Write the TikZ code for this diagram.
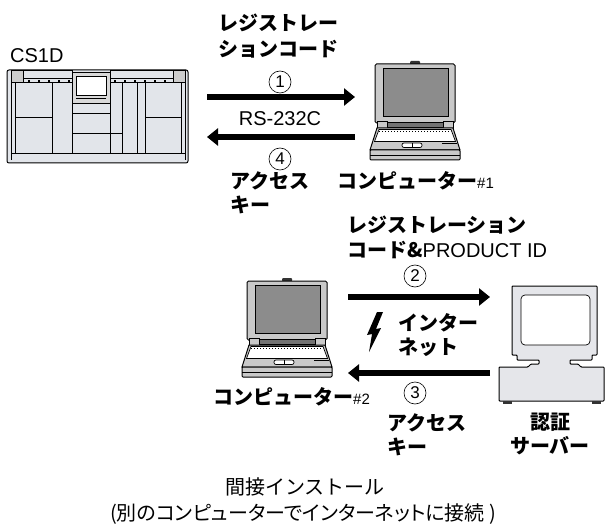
\documentclass[tikz,border=0pt]{standalone}
\usepackage{fontspec}
\setmainfont{Liberation Sans}
\newfontfamily\jp{Noto Sans CJK JP}
\newfontfamily\jpp[RawFeature=+palt]{Noto Sans CJK JP}
\usetikzlibrary{arrows.meta}

\definecolor{panel}{HTML}{E2E5EA}
\definecolor{lidgray}{HTML}{C9C9C9}
\definecolor{scrgray}{HTML}{8C8C8C}
\definecolor{srvgray}{HTML}{E5E6EA}

\tikzset{
  jlabel/.style={anchor=west, inner sep=0pt, text height=17.6pt, text depth=2.4pt,
    font=\jp\bfseries\fontsize{20}{20}\selectfont},
  llabel/.style={anchor=west, inner sep=0pt, text height=17.6pt, text depth=2.4pt,
    font=\fontsize{20}{20}\selectfont},
  plain/.style={inner sep=0pt, font=\jp\fontsize{20}{20}\selectfont},
  num/.style={circle, draw, line width=0.6pt, minimum size=22pt, inner sep=0pt,
    font=\fontsize{17}{17}\selectfont},
  flow/.style={line width=6pt, -{Triangle[length=11pt,width=17pt]}},
  outline/.style={draw=black, line width=1pt},
  thin/.style={draw=black, line width=0.7pt},
  laptop/.pic={
    % lid with knob and screen
    \fill[black!80, rounded corners=1pt] (40,0) rectangle (50,3.5);
    \draw[outline, fill=lidgray, rounded corners=1.5pt] (5,3) rectangle (85,62);
    \draw[thin, fill=scrgray] (13,7) rectangle (78,55);
    % hinge
    \draw[thin, fill=lidgray] (7,60) rectangle (17,67);
    \draw[thin, fill=lidgray] (73,60) rectangle (83,67);
    \draw[thin, fill=black!55] (17,61) rectangle (73,66);
    % base with keyboard and touchpad
    \draw[outline, fill=lidgray] (7,67) -- (83,67) -- (90,89) -- (0,89) -- cycle;
    \draw[thin, fill=white] (9,68.5) -- (81,68.5) -- (85.5,80.5) -- (4.5,80.5) -- cycle;
    \draw[line width=0.6pt, dash pattern=on 1pt off 2pt] (9,70.5) -- (81,70.5);
    \draw[thin] (72,82) -- (87,82);
    \draw[thin, fill=white, rounded corners=2pt] (32,82) rectangle (52,86.5);
    \draw[thin] (42,82) -- (42,86.5);
    % front band
    \draw[outline, fill=lidgray, rounded corners=1pt] (0,89) rectangle (90,99);
    \draw[thin] (0,94) -- (90,94);
  }
}

\begin{document}
\begin{tikzpicture}[x=1pt, y=-1pt]
\path[use as bounding box] (0,0) rectangle (607,529);

% ---------------- CS1D console ----------------
\node[llabel] (cs1d) at (10,55) {CS1D};
\draw[outline, fill=panel, rounded corners=2pt] (7,70) rectangle (188,163);
% end caps
\draw[thin] (15,70) -- (15,153);
\draw[thin] (11,70) -- (11,160);
\draw[thin] (181,70) -- (181,153);
\draw[thin] (185,70) -- (185,160);
\draw[thin, fill=black!20] (11,70) rectangle (23,82);
\draw[thin, fill=black!20] (173,70) rectangle (185,82);
% top rails
\draw[thin] (23,70) rectangle (72,82);
\draw[thin] (110,70) rectangle (173,82);
\draw[thin] (23,78) -- (72,78);
\draw[thin] (110,78) -- (173,78);
\draw[line width=1.4pt, dash pattern=on 2pt off 8pt] (28,81) -- (70,81);
\draw[line width=1.4pt, dash pattern=on 2pt off 8pt] (114,81) -- (170,81);
% bottom rail
\draw[thin] (11,153) -- (185,153);
% display
\draw[thin, fill=black!15] (72,72) rectangle (110,103);
\draw[thin, fill=white] (76,76) rectangle (106,95);
\draw[thin] (76,98) -- (106,98);
% column lines
\foreach \cx in {52,72,110,122,137,145} {
  \draw[thin] (\cx,82) -- (\cx,153);
}
\draw[thin] (15,117) -- (52,117);
\draw[thin] (145,117) -- (181,117);
\draw[thin] (72,113) -- (110,113);
\draw[thin] (72,133) -- (122,133);

% ---------------- laptops ----------------
\pic (pc1) at (370,61) {laptop};
\pic (pc2) at (242,278) {laptop};

% ---------------- server ----------------
\draw[outline, fill=srvgray, rounded corners=0.8pt]
  (512,286) -- (597,286) -- (597,355) -- (592,355) -- (592,360) -- (570,360)
  -- (570,364) -- (578,364) -- (581,367) -- (604,367) -- (604,401) -- (499,401)
  -- (499,367) -- (528,367) -- (531,364) -- (539,364) -- (539,360) -- (517,360)
  -- (517,355) -- (512,355) -- cycle;
\draw[thin, fill=white, rounded corners=4pt] (521,295) rectangle (590,345);
\fill[black!80] (503,401) rectangle (512,403.5);
\fill[black!80] (592,401) rectangle (601,403.5);

% ---------------- first exchange (RS-232C) ----------------
\node[jlabel] (reg1a) at (218,23) {レジストレー};
\node[jlabel] (reg1b) at (218,49) {ションコード};
\node[num] (n1) at (280,82) {1};
\coordinate (a1s) at (207,97);
\coordinate (a1e) at (355,97);
\draw[flow] (a1s) -- (a1e);
\node[llabel, anchor=center] (rs) at (280,118) {RS-232C};
\coordinate (a4s) at (355,137);
\coordinate (a4e) at (207,137);
\draw[flow] (a4s) -- (a4e);
\node[num] (n4) at (280,159) {4};
\node[jlabel] (key1a) at (230,181) {アクセス};
\node[jlabel] (key1b) at (230,205) {キー};
\node[jlabel] (pc1lbl) at (337,181) {コンピューター{\rmfamily\mdseries\fontsize{15}{15}\selectfont\#1}};

% ---------------- second exchange (internet) ----------------
\node[jlabel] (reg2a) at (347,225) {レジストレーション};
\node[jlabel] (reg2b) at (347,250) {コード\&{\rmfamily\mdseries PRODUCT ID}};
\node[num] (n2) at (415,276) {2};
\coordinate (a2s) at (348,297);
\coordinate (a2e) at (490,297);
\draw[flow] (a2s) -- (a2e);
\fill[black] (377,312) -- (383,312) -- (376,329) -- (381,328) -- (369,352)
  -- (372,334) -- (367,335) -- cycle;
\node[jlabel] (net1) at (398,323) {インター};
\node[jlabel] (net2) at (398,347) {ネット};
\coordinate (a3s) at (490,373);
\coordinate (a3e) at (348,373);
\draw[flow] (a3s) -- (a3e);
\node[num] (n3) at (415,393) {3};
\node[jlabel] (key2a) at (387,423) {アクセス};
\node[jlabel] (key2b) at (387,447) {キー};
\node[jlabel, anchor=center] (srv1) at (550,422) {認証};
\node[jlabel, anchor=center] (srv2) at (550,446) {サーバー};
\node[jlabel] (pc2lbl) at (213,397) {コンピューター{\rmfamily\mdseries\fontsize{15}{15}\selectfont\#2}};

% ---------------- caption ----------------
\node[plain] (cap1) at (305,487) {間接インストール};
\node[plain, font=\jpp\fontsize{20}{20}\selectfont] (cap2) at (303,514) {(別のコンピューターでインターネットに接続 )};
\end{tikzpicture}
\end{document}
